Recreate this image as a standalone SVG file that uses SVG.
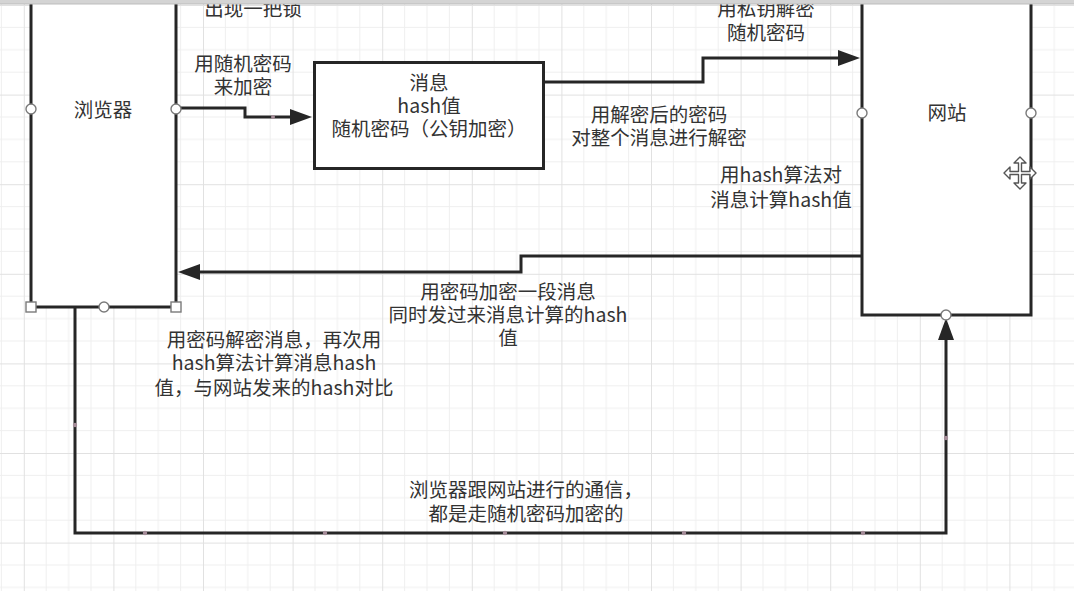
<svg xmlns="http://www.w3.org/2000/svg" width="1074" height="591" viewBox="0 0 1074 591">
<style>
.box{fill:#fff;stroke:#262626;stroke-width:3}
.edge{fill:none;stroke:#262626;stroke-width:3}
.t{font-family:"Noto Sans CJK SC","Noto Sans",sans-serif;font-size:19.5px;fill:#333;text-anchor:middle}
.pt{fill:#fff;stroke:#7a7a7a;stroke-width:1.4}
.dot{fill:#a48c98}
</style>
<defs>
<pattern id="grid" patternUnits="userSpaceOnUse" x="23.8" y="5" width="89.6" height="89.6">
<path d="M22.4,0V89.6M44.8,0V89.6M67.2,0V89.6M0,22.4H89.6M0,44.8H89.6M0,67.2H89.6" stroke="#efefef" stroke-width="1"/>
<path d="M0.5,0V89.6M0,0.5H89.6" stroke="#e1e1e1" stroke-width="1"/>
</pattern>
<marker id="arr" markerUnits="userSpaceOnUse" markerWidth="22" markerHeight="16" refX="0" refY="8" orient="auto" overflow="visible">
<path d="M0,0L22,8L0,16z" fill="#262626"/>
</marker>
</defs>
<rect width="1074" height="591" fill="#fff"/>
<rect width="1074" height="591" fill="url(#grid)"/>

<g id="connectors">
<g id="e-browser-msg">
<path class="edge" d="M176,108H245V117H290" marker-end="url(#arr)"/>
<circle class="dot" cx="273" cy="117" r="2"/>
<text class="t" x="243" y="71">用随机密码</text>
<text class="t" x="243" y="94">来加密</text>
</g>
<g id="e-msg-site">
<path class="edge" d="M544,82H703V58H838" marker-end="url(#arr)"/>
<text class="t" x="766" y="15.5">用私钥解密</text>
<text class="t" x="766" y="40">随机密码</text>
</g>
<g id="e-site-browser">
<path class="edge" d="M862,256H521V272H200" marker-end="url(#arr)"/>
<text class="t" x="508" y="299">用密码加密一段消息</text>
<text class="t" x="508" y="322">同时发过来消息计算的hash</text>
<text class="t" x="508" y="345">值</text>
</g>
<g id="e-browser-site-bottom">
<path class="edge" d="M75,307V533H946V340" marker-end="url(#arr)"/>
<circle class="dot" cx="75" cy="425" r="2.2"/>
<circle class="dot" cx="145" cy="533" r="2.2"/>
<circle class="dot" cx="325" cy="533" r="2.2"/>
<circle class="dot" cx="505" cy="533" r="2.2"/>
<circle class="dot" cx="684" cy="533" r="2.2"/>
<circle class="dot" cx="863" cy="533" r="2.2"/>
<circle class="dot" cx="946" cy="438" r="2.2"/>
<text class="t" x="526" y="497">浏览器跟网站进行的通信，</text>
<text class="t" x="526" y="521">都是走随机密码加密的</text>
</g>
</g>

<g id="browser">
<rect class="box" x="31" y="-20" width="145" height="327"/>
<text class="t" x="103" y="117">浏览器</text>
<circle class="pt" cx="31" cy="109" r="5"/>
<circle class="pt" cx="176" cy="109" r="5"/>
<circle class="pt" cx="104" cy="307" r="5"/>
<rect class="pt" x="26" y="302" width="10" height="10"/>
<rect class="pt" x="171" y="302" width="10" height="10"/>
</g>

<g id="message">
<rect class="box" x="314.5" y="62.5" width="229" height="106"/>
<text class="t" x="429" y="89.5">消息</text>
<text class="t" x="429" y="113">hash值</text>
<text class="t" x="429" y="136">随机密码（公钥加密）</text>
</g>

<g id="website">
<rect class="box" x="862" y="-20" width="169" height="335"/>
<text class="t" x="947" y="120">网站</text>
<circle class="pt" cx="862" cy="113" r="5"/>
<circle class="pt" cx="1031" cy="113" r="5"/>
<circle class="pt" cx="946" cy="315" r="5"/>
</g>

<g id="labels">
<text class="t" x="253" y="15.5">出现一把锁</text>
<text class="t" x="659" y="122">用解密后的密码</text>
<text class="t" x="659" y="145">对整个消息进行解密</text>
<text class="t" x="781" y="182">用hash算法对</text>
<text class="t" x="781" y="207">消息计算hash值</text>
<text class="t" x="274" y="347">用密码解密消息，再次用</text>
<text class="t" x="274" y="370">hash算法计算消息hash</text>
<text class="t" x="274" y="395">值，与网站发来的hash对比</text>
</g>

<g id="cursor">
<path d="M1020,157L1026,163H1021.5V171.5H1030V167L1036,173L1030,179V174.5H1021.5V183H1026L1020,189L1014,183H1018.5V174.5H1010V179L1004,173L1010,167V171.5H1018.5V163H1014Z" fill="#fff" stroke="#555" stroke-width="1.4" stroke-linejoin="round"/>
</g>

<rect x="0" y="0" width="1074" height="4" fill="#d4d4d4"/>
<line x1="0" y1="4" x2="1074" y2="4" stroke="#bdbdbd" stroke-width="1"/>
</svg>
